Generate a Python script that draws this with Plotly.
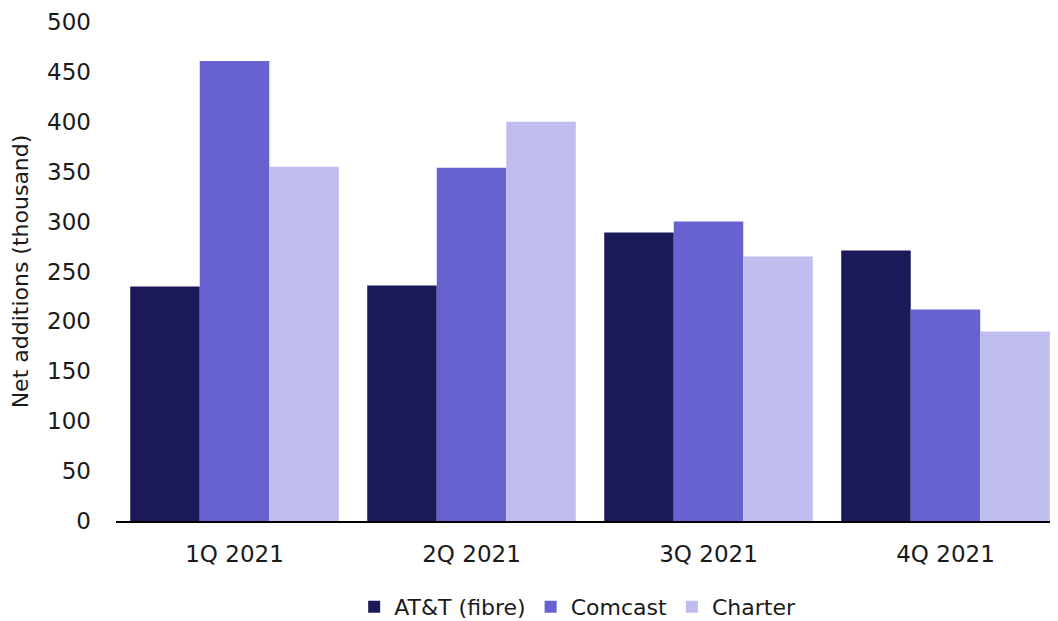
import plotly.graph_objects as go

categories = ["1Q 2021", "2Q 2021", "3Q 2021", "4Q 2021"]
att_fibre = [235, 236, 289, 271]
comcast = [461, 354, 300, 212]
charter = [355, 400, 265, 190]
series_names = ["AT&T (fibre)", "Comcast", "Charter"]
colors = ["#1B1958", "#6762D0", "#BFBDED"]

fig = go.Figure()
for name, vals, c in zip(series_names, [att_fibre, comcast, charter], colors):
    fig.add_trace(go.Bar(x=categories, y=vals, name=name, marker=dict(color=c, line=dict(width=0))))

fig.update_layout(
    barmode="group",
    bargap=0.12,
    bargroupgap=0,
    width=1058, height=613,
    margin=dict(l=108, r=2, t=14, b=100, autoexpand=False),
    plot_bgcolor="white", paper_bgcolor="white",
    font=dict(family="DejaVu Sans, sans-serif", size=23, color="#1a1a1a"),
    legend=dict(orientation="h", x=0.487, xanchor="center", y=-0.172, yanchor="middle",
                font=dict(size=22), itemwidth=30, traceorder="normal"),
    xaxis=dict(showline=True, linecolor="black", linewidth=2, ticks="", showgrid=False,
               automargin=False, tickfont=dict(size=23), ticklabelstandoff=11),
    yaxis=dict(range=[0, 500], dtick=50, showgrid=False, zeroline=False, showline=False,
               automargin=False, ticks="", tickfont=dict(size=23), ticklabelstandoff=24,
               title=dict(text="Net additions (thousand)", font=dict(size=22), standoff=12)),
)
fig.write_html("out.html")
